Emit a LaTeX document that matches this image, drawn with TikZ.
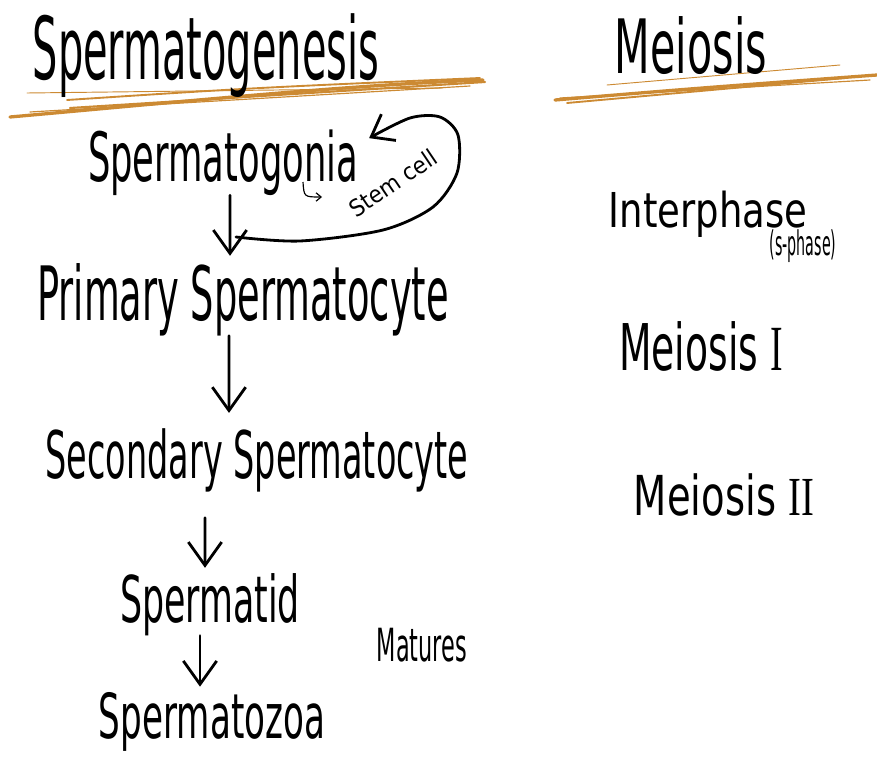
\documentclass[tikz,border=0pt]{standalone}
\usepackage{fontspec}
\setmainfont{DejaVu Sans}
\newfontfamily\numfont{Liberation Serif}
\usetikzlibrary{arrows.meta}
\definecolor{marker}{HTML}{CC8A33}
\tikzset{
  hand/.style 2 args={font=\fontsize{#1}{#1}\selectfont, inner sep=0pt, anchor=base, xscale=#2},
  ink/.style={line width=2.4pt, line cap=round, line join=round},
  scribble/.style={marker, line cap=round},
}
\begin{document}
\begin{tikzpicture}[x=0.03cm, y=-0.03cm, >={Straight Barb[length=7mm,width=10mm]}]
\useasboundingbox (0,0) rectangle (877,761);
% underlines
\draw[scribble, line width=2.8pt] (10,117) .. controls (200,100) and (350,85) .. (483,80);
\draw[scribble, line width=0.8pt] (27,93) -- (443,88);
\draw[scribble, line width=1.6pt] (67,100) .. controls (250,88) .. (480,78);
\draw[scribble, line width=1.8pt] (70,108) -- (485,82);
\draw[scribble, line width=1pt] (30,112) -- (470,86);
\draw[scribble, line width=2.8pt] (555,100) .. controls (700,88) .. (877,75);
\draw[scribble, line width=0.8pt] (607,85) -- (840,65);
\draw[scribble, line width=1.6pt] (567,103) -- (845,78);
\draw[scribble, line width=1pt] (560,98) -- (870,80);
% headings
\node[hand={74}{0.46}] (genesis) at (206,80) {Spermatogenesis};
\node[hand={64}{0.55}] (meiosis) at (691,74) {Meiosis};
% left column
\node[hand={58}{0.52}] (sgonia) at (223,181) {Spermatogonia};
\node[hand={64}{0.49}] (primary) at (243,320) {Primary Spermatocyte};
\node[hand={56}{0.51}] (secondary) at (257,478) {Secondary Spermatocyte};
\node[hand={55}{0.54}] (tid) at (210,622) {Spermatid};
\node[hand={53}{0.55}] (zoa) at (212,738) {Spermatozoa};
\node[hand={39}{0.49}] (matures) at (422,661) {Matures};
\node[rotate=34, hand={20}{0.92}] (stem) at (398,190) {Stem cell};
% right column
\node[hand={41}{0.77}] (inter) at (708,227) {Interphase};
\node[hand={29}{0.42}] (sphase) at (803,255) {(s-phase)};
\node[hand={55}{0.585}] (mone) at (701,370) {Meiosis {\numfont I}};
\node[hand={47}{0.70}] (mtwo) at (724,515) {Meiosis {\numfont II}};
% arrows
\draw[ink, ->] ([xshift=0.21cm]sgonia.south) -- ([xshift=-0.39cm, yshift=0.21cm]primary.north);
\draw[ink, ->] ([xshift=-0.42cm]primary.south) -- ([xshift=-0.84cm, yshift=0.45cm]secondary.north);
\draw[ink, ->] ([xshift=-1.56cm, yshift=-0.78cm]secondary.south) -- ([xshift=-0.15cm, yshift=0.15cm]tid.north);
\draw[ink, ->] ([xshift=-0.3cm]tid.south) -- ([xshift=-0.36cm, yshift=0.15cm]zoa.north);
\coordinate (loopstart) at (236,237);
\draw[ink, ->, >={Straight Barb[length=6mm,width=9mm]}] plot[smooth] coordinates {(loopstart) (300,241) (383,230) (433,207) (457,173) (458,135) (440,117) (410,118) ([xshift=0.33cm, yshift=-0.27cm]sgonia.north east)};
\coordinate (hook) at (303,182);
\coordinate (hookend) at (322,197);
\draw[line width=1pt, ->, >={Straight Barb[length=1.5mm,width=2.5mm]}] (hook) .. controls (304,197) .. (hookend);
\end{tikzpicture}
\end{document}
